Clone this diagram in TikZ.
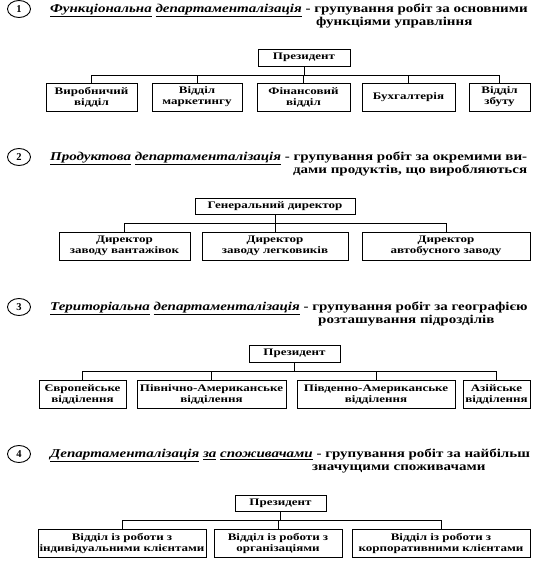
\documentclass[tikz,border=0pt]{standalone}
\usepackage{fontspec}
\setmainfont{Liberation Serif}
\newfontfamily\ttlfont{Liberation Serif}[FakeStretch=1.25]
\newfontfamily\bxfont{Liberation Serif}[FakeStretch=1.3]
\usetikzlibrary{shapes.geometric}
\newcommand\ulw[1]{\underline{\textit{#1}}}
\tikzset{
  bx/.style={draw, line width=0.9pt, align=center, inner sep=0pt, minimum height=28pt,
    font=\bxfont\bfseries\fontsize{10}{11}\selectfont},
  pbx/.style={bx, minimum height=17pt},
  numc/.style={draw, ellipse, line width=0.9pt, inner sep=0pt, minimum width=23pt, minimum height=17pt,
    font=\bfseries\fontsize{10.5}{12}\selectfont},
  ttl/.style={inner sep=0pt, font=\ttlfont\bfseries\fontsize{12}{13}\selectfont},
  con/.style={line width=0.9pt}
}
\begin{document}
\begin{tikzpicture}[x=1pt,y=-1pt]
\useasboundingbox (0,0) rectangle (540,562);
% ---------- Section 1
\node[numc] (n1) at (19,9) {1};
\node[ttl, anchor=base west] (t1a) at (50,12.5) {\ulw{Функціональна} \ulw{департаменталізація} - групування робіт за основними};
\node[ttl, anchor=base west] (t1b) at (316,25.5) {функціями управління};
\node[pbx, minimum width=92pt] (p1) at (304,57.5) {Президент};
\node[bx, minimum width=91pt] (a1) at (91.5,97) {Виробничий\\відділ};
\node[bx, minimum width=90pt] (a2) at (197,97) {Відділ\\маркетингу};
\node[bx, minimum width=93pt] (a3) at (303.5,97) {Фінансовий\\відділ};
\node[bx, minimum width=93pt] (a4) at (408.5,97) {Бухгалтерія};
\node[bx, minimum width=61pt] (a5) at (499.5,97) {Відділ\\збуту};
\coordinate (bar1) at (0,75);
\draw[con] (p1.south) -- (p1.south |- bar1);
\draw[con] (a1.north) -- (a1.north |- bar1) -- (a5.north |- bar1) -- (a5.north);
\foreach \c in {a2,a3,a4} \draw[con] (\c.north) -- (\c.north |- bar1);
% ---------- Section 2
\node[numc] (n2) at (19,157) {2};
\node[ttl, anchor=base west] (t2a) at (50,160.5) {\ulw{Продуктова} \ulw{департаменталізація} - групування робіт за окремими ви-};
\node[ttl, anchor=base east] (t2b) at (t2a.base east |- 0,173.5) {дами продуктів, що виробляються};
\node[pbx, minimum width=160pt, minimum height=16pt] (p2) at (275,206.5) {Генеральний директор};
\node[bx, minimum width=131pt] (b1) at (124.5,246) {Директор\\заводу вантажівок};
\node[bx, minimum width=146pt] (b2) at (275,246) {Директор\\заводу легковиків};
\node[bx, minimum width=168pt] (b3) at (446,246) {Директор\\автобусного заводу};
\coordinate (bar2) at (0,223);
\draw[con] (p2.south) -- (p2.south |- bar2);
\draw[con] (b1.north) -- (b1.north |- bar2) -- (b3.north |- bar2) -- (b3.north);
\draw[con] (b2.north) -- (b2.north |- bar2);
% ---------- Section 3
\node[numc] (n3) at (19,307) {3};
\node[ttl, anchor=base west] (t3a) at (50,310.5) {\ulw{Територіальна} \ulw{департаменталізація} - групування робіт за географією};
\node[ttl, anchor=base west] (t3b) at (318,323.5) {розташування підрозділів};
\node[pbx, minimum width=91pt] (p3) at (294.5,353.5) {Президент};
\node[bx, minimum width=87pt] (c1) at (82.5,394) {Європейське\\відділення};
\node[bx, minimum width=149pt] (c2) at (211.5,394) {Північно-Американське\\відділення};
\node[bx, minimum width=158pt] (c3) at (376,394) {Південно-Американське\\відділення};
\node[bx, minimum width=67pt] (c4) at (496.5,394) {Азійське\\відділення};
\coordinate (bar3) at (0,371.5);
\draw[con] (p3.south) -- (p3.south |- bar3);
\draw[con] (c1.north) -- (c1.north |- bar3) -- (c4.north |- bar3) -- (c4.north);
\foreach \c in {c2,c3} \draw[con] (\c.north) -- (\c.north |- bar3);
% ---------- Section 4
\node[numc] (n4) at (19,454) {4};
\node[ttl, anchor=base west] (t4a) at (50,457.5) {\ulw{Департаменталізація} \ulw{за} \ulw{споживачами} - групування робіт за найбільш};
\node[ttl, anchor=base west] (t4b) at (312,470.5) {значущими споживачами};
\node[pbx, minimum width=91pt, minimum height=16pt] (p4) at (280.5,503) {Президент};
\node[bx, minimum width=168pt] (d1) at (122,543) {Відділ із роботи з\\індивідуальними клієнтами};
\node[bx, minimum width=128pt] (d2) at (278,543) {Відділ із роботи з\\організаціями};
\node[bx, minimum width=178pt] (d3) at (441,543) {Відділ із роботи з\\корпоративними клієнтами};
\coordinate (bar4) at (0,520.5);
\draw[con] (p4.south) -- (p4.south |- bar4);
\draw[con] (d1.north) -- (d1.north |- bar4) -- (d3.north |- bar4) -- (d3.north);
\draw[con] (d2.north) -- (d2.north |- bar4);
\end{tikzpicture}
\end{document}
